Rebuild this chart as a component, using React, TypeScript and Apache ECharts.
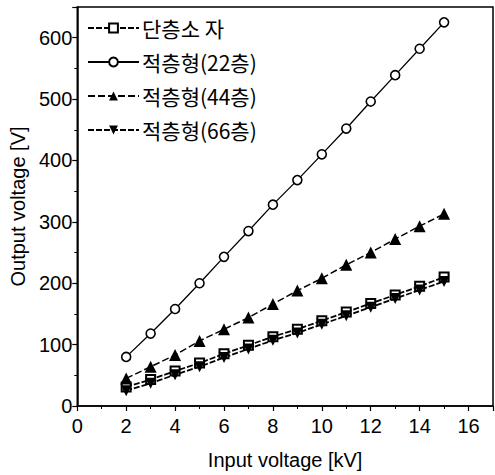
import React, { useEffect, useRef } from "react";
import * as echarts from "echarts";

const inputVoltage = [2, 3, 4, 5, 6, 7, 8, 9, 10, 11, 12, 13, 14, 15];
const singleLayer = [31, 43, 57, 70, 85, 99, 113, 125, 139, 153, 167, 181, 195, 210];
const stacked22 = [80, 118, 158, 200, 243, 285, 328, 368, 410, 452, 496, 539, 582, 625];
const stacked44 = [45, 64, 83, 106, 125, 144, 166, 188, 208, 230, 250, 272, 293, 313];
const stacked66 = [25, 37, 51, 64, 79, 93, 107, 119, 133, 147, 161, 175, 189, 203];
const seriesNames = ["단층소 자", "적층형(22층)", "적층형(44층)", "적층형(66층)"];

const pairs = (ys: number[]) => inputVoltage.map((x, i) => [x, ys[i]]);

export default function App() {
  const ref = useRef<HTMLDivElement>(null);
  useEffect(() => {
    if (!ref.current) return;
    const chart = echarts.init(ref.current, null, { renderer: "svg" });
    const numFont = "'Liberation Sans Narrow', 'Liberation Sans', sans-serif";
    const axisCommon = {
      axisLine: { show: true, lineStyle: { color: "#000", width: 1.5 } },
      axisTick: { show: true, length: 5, lineStyle: { color: "#000", width: 1.2 } },
      minorTick: { show: true, splitNumber: 2, length: 3, lineStyle: { color: "#000", width: 1 } },
      splitLine: { show: false },
      nameTextStyle: { fontFamily: "'Liberation Sans', sans-serif", fontSize: 20, color: "#000" },
    };
    chart.setOption({
      animation: false,
      backgroundColor: "#fff",
      grid: {
        left: 74,
        top: 7,
        right: 2,
        bottom: 69,
        show: true,
        borderColor: "#000",
        borderWidth: 1.5,
        backgroundColor: "transparent",
      },
      legend: {
        orient: "vertical",
        left: 82,
        top: 12,
        itemWidth: 51,
        itemHeight: 11,
        itemGap: 12,
        data: seriesNames,
        textStyle: {
          fontFamily: "'Noto Sans CJK KR', sans-serif",
          fontSize: 21,
          color: "#000",
          lineHeight: 22,
          padding: [0, 0, 0, -2],
        },
      },
      xAxis: {
        type: "value",
        min: 0,
        max: 17,
        interval: 2,
        name: "Input voltage [kV]",
        nameLocation: "middle",
        nameGap: 44,
        ...axisCommon,
        axisLabel: {
          showMaxLabel: false,
          margin: 10,
          fontFamily: numFont,
          fontSize: 20,
          color: "#000",
        },
      },
      yAxis: {
        type: "value",
        min: 0,
        max: 650,
        interval: 100,
        name: "Output voltage [V]",
        nameLocation: "middle",
        nameRotate: 90,
        nameGap: 44,
        ...axisCommon,
        axisLabel: {
          showMaxLabel: false,
          margin: 5,
          fontFamily: numFont,
          fontSize: 20,
          color: "#000",
        },
      },
      series: [
        {
          name: seriesNames[0],
          type: "line",
          data: pairs(singleLayer),
          symbol: "rect",
          symbolSize: 9,
          itemStyle: { color: "#fff", borderColor: "#000", borderWidth: 2 },
          lineStyle: { color: "#000", width: 1.8, type: [6, 2] },
        },
        {
          name: seriesNames[1],
          type: "line",
          data: pairs(stacked22),
          symbol: "circle",
          symbolSize: 9,
          itemStyle: { color: "#fff", borderColor: "#000", borderWidth: 1.6 },
          lineStyle: { color: "#000", width: 1.3 },
        },
        {
          name: seriesNames[2],
          type: "line",
          data: pairs(stacked44),
          symbol: "triangle",
          symbolSize: 12,
          itemStyle: { color: "#000", borderColor: "#000", borderWidth: 0 },
          lineStyle: { color: "#000", width: 1.5, type: [7, 3] },
        },
        {
          name: seriesNames[3],
          type: "line",
          data: pairs(stacked66),
          symbol: "triangle",
          symbolRotate: 180,
          symbolSize: 11,
          itemStyle: { color: "#000", borderColor: "#000", borderWidth: 0 },
          lineStyle: { color: "#000", width: 1.8, type: [6, 2] },
        },
      ],
    });
    return () => chart.dispose();
  }, []);
  return (
    <div
      ref={ref}
      style={{ position: "fixed", left: 0, top: 0, width: 495, height: 475 }}
    />
  );
}
